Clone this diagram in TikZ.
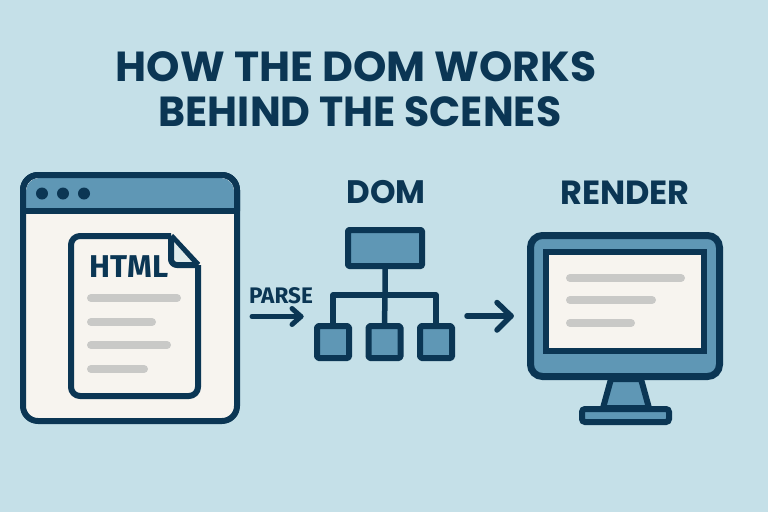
\documentclass[tikz,border=0pt]{standalone}
\usepackage{fontspec}
\setmainfont{Poppins}
\newfontfamily\labelfont{Fira Sans}
\definecolor{bgc}{HTML}{C5E0E8}
\definecolor{ink}{HTML}{0B3654}
\definecolor{midb}{HTML}{5F97B5}
\definecolor{paper}{HTML}{F7F4EF}
\definecolor{bar}{HTML}{C9C9C7}
\tikzset{
  boxbase/.style={draw=ink,line width=6pt,inner sep=0pt,outer sep=0pt,line join=round},
  rootbox/.style={boxbase,fill=midb,minimum width=74pt,minimum height=36pt,rounded corners=1pt},
  leafbox/.style={boxbase,fill=midb,minimum width=32pt,minimum height=32pt,rounded corners=1.5pt},
  wire/.style={draw=ink,line width=5.5pt},
  flow/.style={draw=ink,line width=5pt,line cap=round,line join=round},
  greybar/.style={draw=bar,line width=8pt,line cap=round},
  titletext/.style={text=ink,font=\fontsize{42}{42}\selectfont\bfseries,inner sep=0pt},
  smalltext/.style={text=ink,font=\labelfont\fontsize{22.5}{22.5}\selectfont\bfseries,inner sep=0pt},
}
\begin{document}
\begin{tikzpicture}[x=1pt,y=-1pt]
\useasboundingbox (0,0) rectangle (768,512);
\fill[bgc] (0,0) rectangle (768,512);
% title
\node[titletext] (t1) at (356,67) {\scalebox{1.012}[1]{HOW THE DOM WORKS}};
\node[titletext] (t2) at (360,112) {\scalebox{0.976}[1]{BEHIND THE SCENES}};
% browser window
\draw[ink,line width=6pt,fill=paper,rounded corners=15pt] (23,175) rectangle (237,421);
\fill[midb,rounded corners=13pt] (26,178) -- (234,178) -- (234,209) -- (26,209) -- cycle;
\fill[midb] (26,195) rectangle (234,209);
\draw[ink,line width=6pt] (23,211) -- (237,211);
\draw[ink,line width=6pt,rounded corners=15pt] (23,211) -- (23,175) -- (237,175) -- (237,211);
\foreach \n/\x in {d1/42,d2/63,d3/84}
  \fill[ink] (\x,193.5) circle (6);
% document
\draw[ink,line width=6pt,fill=paper,line join=round,rounded corners=9pt]
  (171,236) -- (71,236) -- (71,396) -- (198,396) -- (198,265);
\draw[ink,line width=6pt,line join=round] (171,236) -- (198,265);
\fill[bgc!45!paper] (174,242) -- (192,262) -- (178,262) -- (174,258) -- cycle;
\draw[ink,line width=6pt,line join=round,rounded corners=6pt] (171,236) -- (171,265) -- (198,265);
\node[text=ink,font=\labelfont\fontsize{31.5}{31.5}\selectfont\bfseries,inner sep=0pt] (html) at (129,267) {HTML};
\draw[greybar] (91,298) -- (177,298);
\draw[greybar] (91,322) -- (152,322);
\draw[greybar] (91,345) -- (167,345);
\draw[greybar] (91,369) -- (144,369);
% parse arrow
\node[smalltext] (parse) at (281,296) {PARSE};
\coordinate (p1) at (252,316.5);
\coordinate (p2) at (301,316.5);
\draw[flow] (p1) -- (p2);
\draw[flow] (292,308.5) -- (p2) -- (292,324.5);
% DOM tree
\node[text=ink,font=\fontsize{32.5}{32.5}\selectfont\bfseries,inner sep=0pt] (domlabel) at (386,192.5) {DOM};
\node[rootbox] (root) at (385,248) {};
\node[leafbox] (c1) at (333,342) {};
\node[leafbox] (c2) at (384.5,342) {};
\node[leafbox] (c3) at (436,342) {};
\coordinate (junction) at (385,295);
\draw[wire] (root.south) -- (junction) -- (c2.north);
\draw[wire,line join=round] (c1.north) |- (junction) -| (c3.north);
% arrow 2
\coordinate (a1) at (467,316);
\coordinate (a2) at (511,316);
\draw[flow,line width=5.5pt] (a1) -- (a2);
\draw[flow,line width=5.5pt] (497,302.5) -- (a2) -- (497,330);
% monitor
\node[text=ink,font=\fontsize{33.5}{33.5}\selectfont\bfseries,inner sep=0pt] (renderlabel) at (625,193) {RENDER};
\draw[ink,line width=6pt,fill=midb,line join=round] (611,379) -- (603,408) -- (649,408) -- (641,379) -- cycle;
\draw[ink,line width=6pt,fill=midb,rounded corners=3pt] (582,409) rectangle (669,422);
\draw[ink,line width=7pt,fill=midb,rounded corners=12pt] (530.5,235.5) rectangle (719.5,376.5);
\draw[ink,line width=6pt,fill=paper] (546,252) rectangle (704,351);
\draw[greybar] (570,278) -- (681,278);
\draw[greybar] (570,300) -- (652,300);
\draw[greybar] (570,323) -- (631,323);
\end{tikzpicture}
\end{document}
